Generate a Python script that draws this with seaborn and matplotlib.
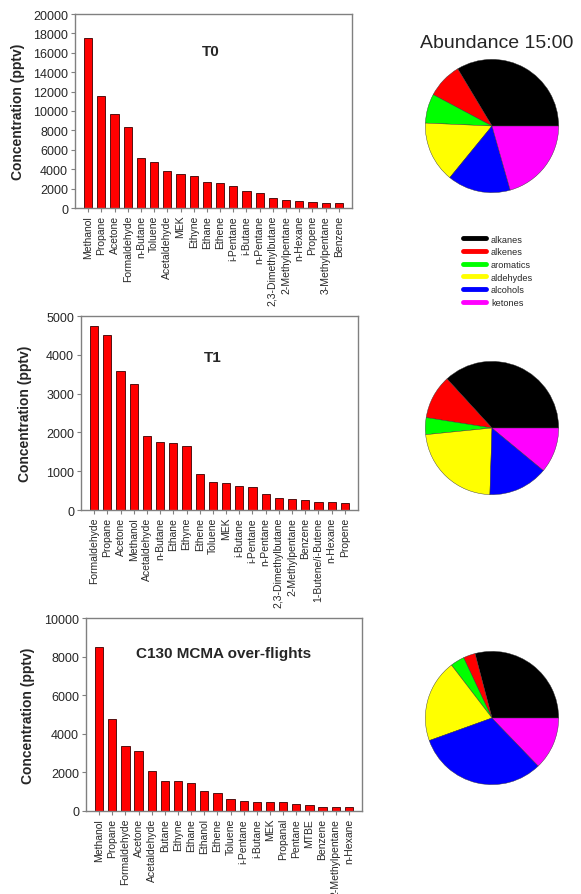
import numpy as np
import pandas as pd
import seaborn as sns
import matplotlib.pyplot as plt
from matplotlib.lines import Line2D

sns.set_style("white")
plt.rcParams['font.family'] = ['Liberation Sans', 'DejaVu Sans']

# --- bar chart data (pptv) ---
t0_names = ["Methanol", "Propane", "Acetone", "Formaldehyde", "n-Butane", "Toluene",
            "Acetaldehyde", "MEK", "Ethyne", "Ethane", "Ethene", "i-Pentane", "i-Butane",
            "n-Pentane", "2,3-Dimethylbutane", "2-Methylpentane", "n-Hexane", "Propene",
            "3-Methylpentane", "Benzene"]
t0_vals = [17500, 11500, 9700, 8300, 5150, 4780, 3850, 3470, 3330, 2650, 2540, 2230,
           1720, 1580, 1030, 820, 720, 620, 520, 480]

t1_names = ["Formaldehyde", "Propane", "Acetone", "Methanol", "Acetaldehyde", "n-Butane",
            "Ethane", "Ethyne", "Ethene", "Toluene", "MEK", "i-Butane", "i-Pentane",
            "n-Pentane", "2,3-Dimethylbutane", "2-Methylpentane", "Benzene",
            "1-Butene/i-Butene", "n-Hexane", "Propene"]
t1_vals = [4740, 4510, 3590, 3260, 1910, 1750, 1730, 1660, 940, 720, 690, 620, 590,
           400, 310, 290, 250, 200, 200, 180]

c130_names = ["Methanol", "Propane", "Formaldehyde", "Acetone", "Acetaldehyde", "Butane",
              "Ethyne", "Ethane", "Ethanol", "Ethene", "Toluene", "i-Pentane", "i-Butane",
              "MEK", "Propanal", "Pentane", "MTBE", "Benzene", "2-Methylpentane", "n-Hexane"]
c130_vals = [8510, 4760, 3360, 3130, 2090, 1570, 1540, 1440, 1060, 930, 640, 540, 480,
             470, 450, 350, 330, 220, 220, 210]

# --- pie data (% of total) ---
groups = ["alkanes", "alkenes", "aromatics", "aldehydes", "alcohols", "ketones"]
group_colors = ["#000000", "#ff0000", "#00ff00", "#ffff00", "#0000ff", "#ff00ff"]
pie_t0 = [33.6, 8.6, 7.1, 14.8, 15.3, 20.6]
pie_t1 = [36.8, 10.7, 4.1, 22.9, 14.5, 11.0]
pie_c130 = [29.1, 2.9, 3.4, 20.1, 31.7, 12.8]

W, H = 581, 895
fig = plt.figure(figsize=(W / 100, H / 100), dpi=100)


def px_axes(left, top, right, bottom):
    return fig.add_axes([left / W, 1 - bottom / H, (right - left) / W, (bottom - top) / H])


def bar_panel(ax, names, vals, ymax, step, title, title_x, title_y, label_x):
    df = pd.DataFrame({"name": names, "value": vals})
    sns.barplot(data=df, x="name", y="value", color="#ff0000", saturation=1,
                width=0.62, edgecolor="#3a0000", linewidth=0.6, ax=ax)
    ax.set_xlim(-1, len(names))
    ax.set_ylim(0, ymax)
    ax.set_yticks(np.arange(0, ymax + 1, step))
    ax.tick_params(axis="y", labelsize=9, length=3, width=0.8, color="#808080", pad=2, left=True)
    ax.tick_params(axis="x", labelsize=7.5, length=3, width=0.8, color="#808080", pad=2,
                   bottom=True, labelrotation=90)
    ax.set_xlabel("")
    ax.set_ylabel("Concentration (pptv)", fontsize=10, fontweight="bold")
    ax.yaxis.set_label_coords(label_x, 0.5)
    ax.yaxis.label.set_va("center")
    for s in ax.spines.values():
        s.set_color("#808080")
        s.set_linewidth(1.0)
    ax.text(title_x, title_y, title, transform=ax.transAxes, ha="center", va="center",
            fontsize=11, fontweight="bold")


ax1 = px_axes(75, 15, 352, 209)
bar_panel(ax1, t0_names, t0_vals, 20000, 2000, "T0", 0.49, 0.81, -0.206)

ax2 = px_axes(81, 317, 358, 511)
bar_panel(ax2, t1_names, t1_vals, 5000, 1000, "T1", 0.475, 0.79, -0.202)

ax3 = px_axes(86, 619, 362, 812)
bar_panel(ax3, c130_names, c130_vals, 10000, 2000, "C130 MCMA over-flights", 0.5, 0.82, -0.21)


def pie_panel(cx, cy, vals):
    ax = px_axes(cx - 80, cy - 80, cx + 80, cy + 80)
    ax.pie(vals, colors=group_colors, startangle=0, counterclock=True,
           wedgeprops={"edgecolor": "#333333", "linewidth": 0.3})
    ax.set_xlim(-1.2, 1.2)
    ax.set_ylim(-1.2, 1.2)
    ax.set_aspect("equal")
    ax.axis("off")


pie_panel(492, 127, pie_t0)
pie_panel(492, 429, pie_t1)
pie_panel(492, 719, pie_c130)

fig.text(497 / W, 1 - 43 / H, "Abundance 15:00", ha="center", va="center", fontsize=14)

handles = [Line2D([0], [0], color=c, lw=3.5) for c in group_colors]
fig.legend(handles, groups, loc="upper left", bbox_to_anchor=(458 / W, 1 - 231 / H),
           frameon=False, fontsize=6.6, handlelength=2.5, handletextpad=0.6,
           labelspacing=0.4, borderpad=0)

fig.savefig("out.png", dpi=100)
